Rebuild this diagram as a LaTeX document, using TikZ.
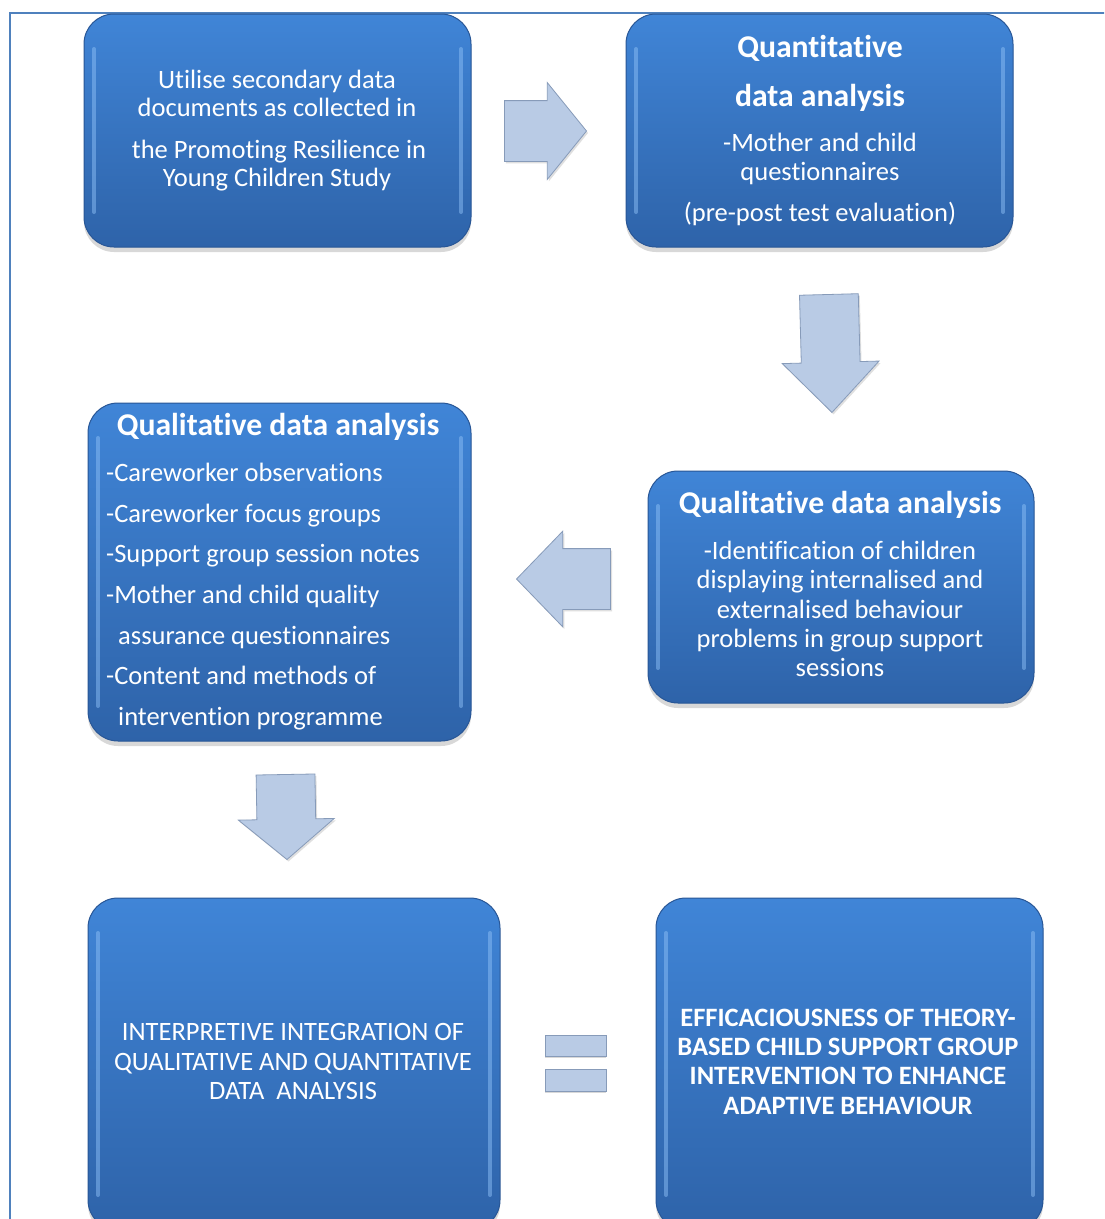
\documentclass[tikz,border=0pt]{standalone}
\usepackage{fontspec}
\setmainfont{Carlito}[Ligatures=NoCommon]
\usetikzlibrary{shapes.arrows,shadows,calc}
\definecolor{boxtop}{RGB}{64,133,215}
\definecolor{boxbot}{RGB}{46,99,169}
\definecolor{boxedge}{RGB}{40,86,150}
\definecolor{hl}{RGB}{140,190,245}
\definecolor{arrfill}{RGB}{185,203,229}
\definecolor{arredge}{RGB}{135,155,185}
\definecolor{frame}{RGB}{79,129,189}
\begin{document}
\begin{tikzpicture}[x=1pt,y=-1pt,
  box/.style={draw=boxedge, line width=1pt, rounded corners=30pt,
    top color=boxtop, bottom color=boxbot, inner sep=0pt,
    drop shadow={shadow xshift=0pt, shadow yshift=-5pt, opacity=0.3},
    path picture={
      \draw[hl, line width=4pt, opacity=0.5, line cap=round]
        ([xshift=10pt,yshift=-35pt]path picture bounding box.north west) --
        ([xshift=10pt,yshift=35pt]path picture bounding box.south west);
      \draw[hl, line width=4pt, opacity=0.5, line cap=round]
        ([xshift=-10pt,yshift=-35pt]path picture bounding box.north east) --
        ([xshift=-10pt,yshift=35pt]path picture bounding box.south east);
    }},
  blockarrow/.style={shape=single arrow, draw=arredge, fill=arrfill, line width=0.8pt,
    inner xsep=0pt, anchor=tip,
    drop shadow={shadow xshift=1.5pt, shadow yshift=-2pt, opacity=0.25}},
  bar/.style={draw=arredge, fill=arrfill, line width=0.8pt, inner sep=0pt,
    minimum width=61pt, drop shadow={shadow xshift=0pt, shadow yshift=-2pt, opacity=0.3}},
  txt/.style={text=white, inner sep=0pt, anchor=base, font=\fontsize{26.5}{29}\selectfont},
  txtl/.style={txt, anchor=base west},
  ttl/.style={txt, font=\bfseries\fontsize{31.7}{36}\selectfont},
  bcap/.style={txt, font=\bfseries\fontsize{26.5}{29}\selectfont}
]
\useasboundingbox (0,0) rectangle (1104,1219);
\fill[white] (0,0) rectangle (1104,1219);
\clip (0,0) rectangle (1104,1219);

% page frame
\draw[frame, line width=1.5pt] (10,1225) -- (10,13) -- (1110,13);

% boxes
\node[box, minimum width=387pt, minimum height=233pt] (b1) at (277.5,130.5) {};
\node[box, minimum width=387pt, minimum height=233pt] (b2) at (819.5,130.5) {};
\node[box, minimum width=386pt, minimum height=232pt] (b3) at (841,587) {};
\node[box, minimum width=383pt, minimum height=338pt] (b4) at (279.5,572) {};
\node[box, minimum width=412pt, minimum height=332pt] (b5) at (294,1064) {};
\node[box, minimum width=387pt, minimum height=332pt] (b6) at (849.5,1064) {};

% block arrows (placed by their tips)
\node[blockarrow, minimum height=82pt, inner ysep=30pt,
  single arrow head extend=18pt, single arrow tip angle=102]
  (a1) at (587,131) {};
\node[blockarrow, minimum height=118pt, inner ysep=29pt,
  single arrow head extend=19pt, single arrow tip angle=88, rotate=-88.5]
  (a2) at (832,413) {};
\node[blockarrow, minimum height=94pt, inner ysep=30pt,
  single arrow head extend=17.5pt, single arrow tip angle=92, rotate=180]
  (a3) at (516,579) {};
\node[blockarrow, minimum height=85pt, inner ysep=29pt,
  single arrow head extend=18.5pt, single arrow tip angle=100, rotate=-89]
  (a4) at (287,860) {};

% equals sign
\node[bar, minimum height=21pt] (e1) at ($(b5.east)!0.5!(b6.west)+(-2.5,-18.5)$) {};
\node[bar, minimum height=22pt] (e2) at ($(b5.east)!0.5!(b6.west)+(-2.5,16)$) {};

% box 1 text
\node[txt] (t1a) at (277,88.3) {Utilise secondary data};
\node[txt] (t1b) at (277,116.7) {documents as collected in};
\node[txt] (t1c) at (279,158.3) {the Promoting Resilience in};
\node[txt] (t1d) at (277,186.7) {Young Children Study};

% box 2 text
\node[ttl] (t2a) at (820,57.5) {Quantitative};
\node[ttl] (t2b) at (820,106.5) {data analysis};
\node[txt] (t2c) at (820,151) {-Mother and child};
\node[txt] (t2d) at (820,180) {questionnaires};
\node[txt] (t2e) at (820,221) {(pre-post test evaluation)};

% box 3 text
\node[ttl] (t3a) at (840,513.5) {Qualitative data analysis};
\node[txt] (t3b) at (840,559) {-Identification of children};
\node[txt] (t3c) at (840,588) {displaying internalised and};
\node[txt] (t3d) at (840,618) {externalised behaviour};
\node[txt] (t3e) at (840,647) {problems in group support};
\node[txt] (t3f) at (840,676) {sessions};

% box 4 text
\node[ttl] (t4a) at (278,435.5) {Qualitative data analysis};
\node[txtl] (t4b) at (106,481) {-Careworker observations};
\node[txtl] (t4c) at (106,522) {-Careworker focus groups};
\node[txtl] (t4d) at (106,562) {-Support group session notes};
\node[txtl] (t4e) at (106,603) {-Mother and child quality};
\node[txtl] (t4f) at (118,644) {assurance questionnaires};
\node[txtl] (t4g) at (106,684) {-Content and methods of};
\node[txtl] (t4h) at (118,725) {intervention programme};

% box 5 text
\node[txt] (t5a) at (293,1040) {INTERPRETIVE INTEGRATION OF};
\node[txt] (t5b) at (293,1070) {QUALITATIVE AND QUANTITATIVE};
\node[txt] (t5c) at (293,1099) {DATA~~ANALYSIS};

% box 6 text
\node[bcap] (t6a) at (848,1026) {EFFICACIOUSNESS OF THEORY-};
\node[bcap] (t6b) at (848,1055) {BASED CHILD SUPPORT GROUP};
\node[bcap] (t6c) at (848,1084) {INTERVENTION TO ENHANCE};
\node[bcap] (t6d) at (848,1114) {ADAPTIVE BEHAVIOUR};
\end{tikzpicture}
\end{document}
